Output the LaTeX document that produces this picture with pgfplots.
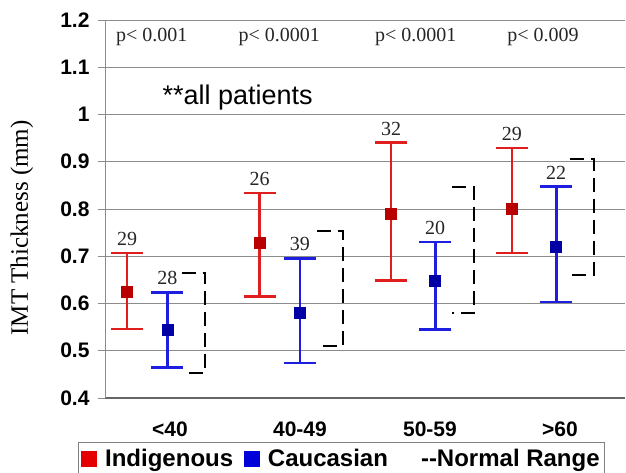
\documentclass[border=0pt]{standalone}
\usepackage{fontspec}
\setmainfont{Liberation Serif}
\newfontfamily\arial{Liberation Sans}
\usepackage{pgfplots}
\pgfplotsset{compat=1.18}
\definecolor{barred}{RGB}{225,30,30}
\definecolor{markred}{RGB}{185,0,0}
\definecolor{barblue}{RGB}{30,30,225}
\definecolor{markblue}{RGB}{0,0,165}
\definecolor{gridgray}{RGB}{140,140,140}

\begin{document}
\begin{tikzpicture}
\path[use as bounding box] (-105pt,-74pt) rectangle (521pt,398pt);
\begin{axis}[
    scale only axis,
    width=520pt, height=378pt,
    xmin=-0.5, xmax=3.5,
    ymin=0.4, ymax=1.2,
    axis x line*=bottom,
    axis y line*=left,
    x axis line style={line width=2.5pt, draw=black!60},
    y axis line style={line width=0.8pt, draw=gridgray},
    ytick={0.4,0.5,0.6,0.7,0.8,0.9,1,1.1,1.2},
    ymajorgrids,
    grid style={line width=0.8pt, draw=gridgray},
    xtick={0,1,2,3},
    xticklabels={<40,40-49,50-59,>60},
    tick align=outside,
    major tick length=7pt,
    tick style={line width=0.8pt, draw=gridgray},
    major x tick style={draw=none},
    /pgf/number format/assume math mode=true,
    yticklabel style={font=\arial\bfseries\fontsize{21}{24}\selectfont, xshift=-5pt},
    xticklabel style={font=\arial\bfseries\fontsize{21}{24}\selectfont, yshift=-13pt},
    ylabel={IMT Thickness (mm)},
    ylabel style={font=\fontsize{25}{28}\selectfont, at={(axis description cs:-0.16,0.45)}, anchor=center},
    legend style={at={(-0.052,-0.116)}, anchor=north west, draw=black!50, line width=0.8pt,
        inner ysep=5pt, inner xsep=3pt,
        font=\arial\bfseries\fontsize{24}{26}\selectfont, legend columns=3,
        /tikz/every odd column/.append style={column sep=6pt},
        /tikz/every even column/.append style={column sep=9pt}},
    legend cell align=left,
]

% Indigenous: mean with error bars
\addplot[forget plot, only marks, mark=square*, mark size=5.5pt,
    mark options={fill=markred, draw=markred, line width=0.5pt},
    error bars/.cd, y dir=both, y explicit,
    error bar style={barred, line width=2.8pt},
    error mark options={barred, rotate=90, mark size=16pt, line width=2.8pt}]
coordinates {
    (-0.33,0.624) += (0,0.083) -= (0,0.078)
    (0.69,0.729) += (0,0.105) -= (0,0.115)
    (1.70,0.791) += (0,0.149) -= (0,0.143)
    (2.63,0.800) += (0,0.129) -= (0,0.093)
};

% Caucasian: mean with error bars
\addplot[forget plot, only marks, mark=square*, mark size=5.5pt,
    mark options={fill=markblue, draw=markblue, line width=0.5pt},
    error bars/.cd, y dir=both, y explicit,
    error bar style={barblue, line width=2.8pt},
    error mark options={barblue, rotate=90, mark size=16pt, line width=2.8pt}]
coordinates {
    (-0.02,0.544) += (0,0.080) -= (0,0.080)
    (1.00,0.580) += (0,0.116) -= (0,0.106)
    (2.04,0.649) += (0,0.081) -= (0,0.104)
    (2.97,0.720) += (0,0.127) -= (0,0.117)
};

% normal range brackets
\pgfplotsset{nr/.style={forget plot, black, line width=2.3pt, dash pattern=on 14pt off 7pt}}
\addplot[nr] coordinates {(0.09,0.665)(0.27,0.665)(0.27,0.453)(0.09,0.453)};
\addplot[nr] coordinates {(1.13,0.753)(1.33,0.753)(1.33,0.510)(1.13,0.510)};
\addplot[nr] coordinates {(2.17,0.847)(2.34,0.847)(2.34,0.580)(2.17,0.580)};
\addplot[nr] coordinates {(3.08,0.906)(3.26,0.906)(3.26,0.660)(3.08,0.660)};

% patient counts above the upper caps
\addplot[forget plot, draw=none, mark=none, nodes near coords, point meta=explicit symbolic,
    nodes near coords style={anchor=south, inner sep=0pt, yshift=7pt, text=black!85,
        font=\fontsize{20}{22}\selectfont}]
coordinates {
    (-0.33,0.707) [29] (0.69,0.834) [26] (1.70,0.940) [32] (2.63,0.929) [29]
    (-0.02,0.624) [28] (1.00,0.696) [39] (2.04,0.730) [20] (2.97,0.847) [22]
};

\node[font=\fontsize{20}{22}\selectfont, text=black!85] at (axis cs:-0.14,1.164) {p< 0.001};
\node[font=\fontsize{20}{22}\selectfont, text=black!85] at (axis cs:0.84,1.164) {p< 0.0001};
\node[font=\fontsize{20}{22}\selectfont, text=black!85] at (axis cs:1.89,1.164) {p< 0.0001};
\node[font=\fontsize{20}{22}\selectfont, text=black!85] at (axis cs:2.87,1.164) {p< 0.009};
\node[font=\arial\fontsize{27}{30}\selectfont] at (axis cs:0.52,1.037) {**all patients};

\addlegendimage{legend image code/.code={\fill[red!90!black] (0pt,-7.5pt) rectangle (15pt,7.5pt);}}
\addlegendentry{Indigenous}
\addlegendimage{legend image code/.code={\fill[blue!85!black] (0pt,-7.5pt) rectangle (15pt,7.5pt);}}
\addlegendentry{Caucasian}
\addlegendimage{empty legend}
\addlegendentry{\hspace{14pt}-{}-Normal Range}
\end{axis}
\end{tikzpicture}
\end{document}
